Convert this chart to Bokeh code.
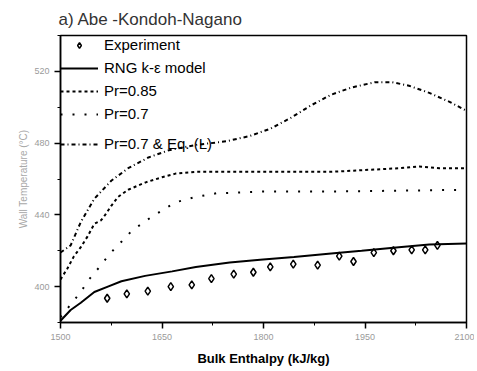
from bokeh.plotting import figure
from bokeh.models import Range1d, FixedTicker, Legend, LegendItem
from bokeh.embed import file_html
from bokeh.resources import INLINE

# ---- data ----
exp_x = [1569, 1598, 1629, 1663, 1694, 1723, 1756, 1785, 1810, 1844, 1880, 1912, 1933, 1963, 1992, 2019, 2039, 2057]
exp_y = [393.5, 396, 397.5, 400, 401, 404.5, 407, 408, 411, 412.5, 412, 417, 414, 419, 420, 420.5, 420.5, 423]

rng_x = [1500, 1515, 1530, 1550, 1570, 1590, 1625, 1665, 1700, 1750, 1795, 1845, 1900, 1945, 2000, 2045, 2100]
rng_y = [381, 387, 391, 397, 400, 403, 406, 408.5, 411, 413.5, 415, 416.5, 418.5, 420, 422, 423.5, 424]

pr085_x = [1500, 1510, 1520, 1530, 1540, 1550, 1560, 1566, 1575, 1585, 1600, 1625, 1650, 1670, 1700, 1750, 1800, 1900, 1950, 2000, 2030, 2060, 2100]
pr085_y = [404, 410, 417, 422, 428, 435, 437, 440, 445, 450, 454, 458, 461, 463, 464, 464, 464, 464, 465, 466, 467, 466, 466]

pr07_x = [1500, 1515, 1530, 1540, 1560, 1572, 1590, 1605, 1635, 1670, 1700, 1730, 1765, 1800, 1900, 2000, 2100]
pr07_y = [383, 390, 397, 403, 412, 418, 425, 431, 439, 447, 450, 452, 452.5, 453, 453, 453.5, 454]

eql_x = [1500, 1515, 1530, 1550, 1575, 1600, 1630, 1660, 1700, 1745, 1780, 1810, 1840, 1870, 1900, 1930, 1965, 1990, 2015, 2045, 2075, 2100]
eql_y = [419, 423, 436, 449, 459, 466, 472, 476, 479, 481, 484, 488, 494, 501, 507, 511, 514, 514, 512, 508, 503, 498]

x_ticks = [1500, 1650, 1800, 1950, 2100]
x_minor = [1575, 1725, 1875, 2025]
y_ticks = [400, 440, 480, 520]
y_minor = [380, 420, 460, 500, 540]

title_text = "a) Abe -Kondoh-Nagano"
x_label = "Bulk Enthalpy (kJ/kg)"
y_label = "Wall Temperature (\u00b0C)"
labels = ["Experiment", "RNG k-\u03b5 model", "Pr=0.85", "Pr=0.7", "Pr=0.7 & Eq. (L)"]

FONT = "Liberation Sans"

p = figure(width=474, height=369, output_backend="svg", toolbar_location=None,
           x_range=Range1d(1500, 2100), y_range=Range1d(380, 540),
           min_border_left=60, min_border_right=8, min_border_top=35, min_border_bottom=47)
p.background_fill_color = "white"
p.border_fill_color = "white"
p.grid.visible = False
p.outline_line_color = "black"
p.outline_line_width = 1.5

p.title.text = title_text
p.title.text_font = FONT
p.title.text_font_size = "17px"
p.title.text_font_style = "normal"
p.title.text_color = "#333333"
p.title.offset = -2
p.title.standoff = 14

for ax in (p.xaxis[0], p.yaxis[0]):
    ax.axis_line_width = 1.5
    ax.major_tick_line_width = 1.5
    ax.minor_tick_line_width = 1
    ax.major_tick_out = 6
    ax.major_tick_in = 0
    ax.minor_tick_out = 3
    ax.minor_tick_in = 0
    ax.major_label_text_font = FONT
    ax.major_label_text_font_size = "9px"
    ax.major_label_text_color = "#9a9a9a"
    ax.axis_label_text_font = FONT

p.xaxis.ticker = FixedTicker(ticks=x_ticks, minor_ticks=x_minor)
p.yaxis.ticker = FixedTicker(ticks=y_ticks, minor_ticks=y_minor)
p.xaxis.axis_label = x_label
p.xaxis.axis_label_text_font_size = "13px"
p.xaxis.axis_label_text_font_style = "bold"
p.xaxis.axis_label_text_color = "black"
p.xaxis.axis_label_standoff = 8
p.yaxis.axis_label = y_label
p.yaxis.axis_label_text_font_size = "10px"
p.yaxis.axis_label_text_font_style = "normal"
p.yaxis.axis_label_text_color = "#a8a8a8"
p.yaxis.axis_label_standoff = 2

r_exp = p.scatter(exp_x, exp_y, marker="diamond", size=8, fill_color=None, line_color="black", line_width=1.5)
r_rng = p.line(rng_x, rng_y, line_color="black", line_width=2)
r_085 = p.line(pr085_x, pr085_y, line_color="black", line_width=2, line_dash="3 3")
r_07 = p.line(pr07_x, pr07_y, line_color="black", line_width=2, line_dash="2 10")
r_eql = p.line(eql_x, eql_y, line_color="black", line_width=2, line_dash="4 3 1 3")

leg_kw = dict(border_line_color=None, background_fill_alpha=0, padding=2, margin=0,
              glyph_width=38, glyph_height=14, label_height=14, label_standoff=6,
              label_text_font=FONT, label_text_font_size="15px", label_text_color="black",
              spacing=6)
leg1 = Legend(items=[LegendItem(label=labels[0], renderers=[r_exp]),
                     LegendItem(label=labels[1], renderers=[r_rng]),
                     LegendItem(label=labels[2], renderers=[r_085]),
                     LegendItem(label=labels[3], renderers=[r_07])],
              location=(0, 200), **leg_kw)
leg2 = Legend(items=[LegendItem(label=labels[4], renderers=[r_eql])],
              location=(0, 170), **leg_kw)
p.add_layout(leg1)
p.add_layout(leg2)

open("out.html", "w").write(file_html(p, INLINE))
